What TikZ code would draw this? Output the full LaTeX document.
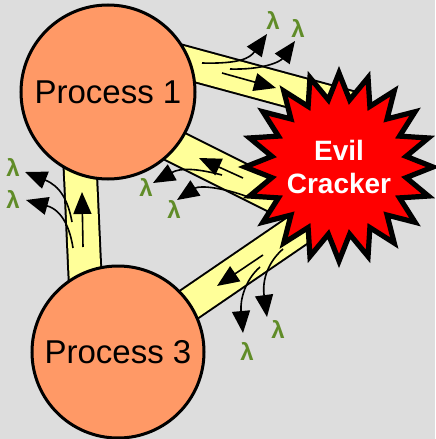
\documentclass[tikz,border=0pt]{standalone}
\usepackage{fontspec}
\setmainfont{Liberation Sans}
\usetikzlibrary{shapes.geometric,arrows.meta}
\definecolor{bggray}{RGB}{221,221,221}
\definecolor{procorange}{RGB}{255,153,102}
\definecolor{pipeyellow}{RGB}{255,255,153}
\definecolor{leakgreen}{RGB}{96,140,40}

\begin{document}
\begin{tikzpicture}[x=0.5pt,y=-0.5pt,
    pipe/.style={line width=1pt,draw=black,double=pipeyellow,double distance=15.5pt},
    proc/.style={circle,draw,line width=1.5pt,fill=procorange,inner sep=0pt,font=\fontsize{16.5}{18}\selectfont},
    flow/.style={line width=0.8pt,-{Triangle[length=11pt,width=9pt]}},
    leak/.style={text=leakgreen,inner sep=0pt,font=\fontsize{12}{14}\selectfont\bfseries}]
    % background
    \fill[bggray] (0,0) rectangle (435,439);
    \useasboundingbox (0,0) rectangle (435,439);
    % pipe ends (hidden under the processes and the cracker)
    \coordinate (p1a) at (150,53);   \coordinate (cra) at (360,110);
    \coordinate (p1b) at (150,134);  \coordinate (crb) at (330,224);
    \coordinate (p3c) at (140,338);  \coordinate (crc) at (320,215);
    \coordinate (p1d) at (78,120);   \coordinate (p3d) at (87,320);
    \draw[pipe] (p1a) -- (cra);
    \draw[pipe] (p1b) -- (crb);
    \draw[pipe] (crc) -- (p3c);
    \draw[pipe] (p3d) -- (p1d);
    % processes
    \node[proc,minimum size=87pt] (p1) at (108,92) {Process 1};
    \node[proc,minimum size=86pt] (p3) at (118,352) {Process 3};
    % the cracker: a 20-point burst
    \draw[shift={(339,167)},fill=red,line width=2.6pt]
        plot[samples=40,domain=0:39] ({\x*9}:{ifthenelse(mod(\x,2)==0,94,68)}) -- cycle;
    \node[text=white,align=center,font=\fontsize{14}{16.5}\selectfont\bfseries]
          (cracker) at (339,167) {Evil\\Cracker};
    % leaked lambdas
    \node[leak] (l1) at (273,20) {λ};
    \node[leak] (l2) at (298,28) {λ};
    \node[leak] (l3) at (146,187) {λ};
    \node[leak] (l4) at (174,209) {λ};
    \node[leak] (l5) at (278,329) {λ};
    \node[leak] (l6) at (247,351) {λ};
    \node[leak] (l7) at (13,167) {λ};
    \node[leak] (l8) at (13,199) {λ};
    % flow along the pipes
    \draw[flow] (222,73) -- (276,88);
    \draw[flow] (243,178) -- (199,158);
    \draw[flow] (263,255) -- (217,286);
    \draw[flow] (83,247) -- (82,192);
    % leaks out of the pipes
    \draw[flow] (202,63) .. controls (240,64) and (250,58) .. (267,34);
    \draw[flow] (230,69) .. controls (262,70) and (280,62) .. (295,41);
    \draw[flow] (222,175) .. controls (195,168) and (180,168) .. (153,183);
    \draw[flow] (248,197) .. controls (225,188) and (200,185) .. (177,200);
    \draw[flow] (283,249) .. controls (268,262) and (262,280) .. (267,317);
    \draw[flow] (260,267) .. controls (245,280) and (240,300) .. (243,333);
    \draw[flow] (72,222) .. controls (68,200) and (60,186) .. (25,172);
    \draw[flow] (73,248) .. controls (70,228) and (62,210) .. (26,200);
\end{tikzpicture}
\end{document}
